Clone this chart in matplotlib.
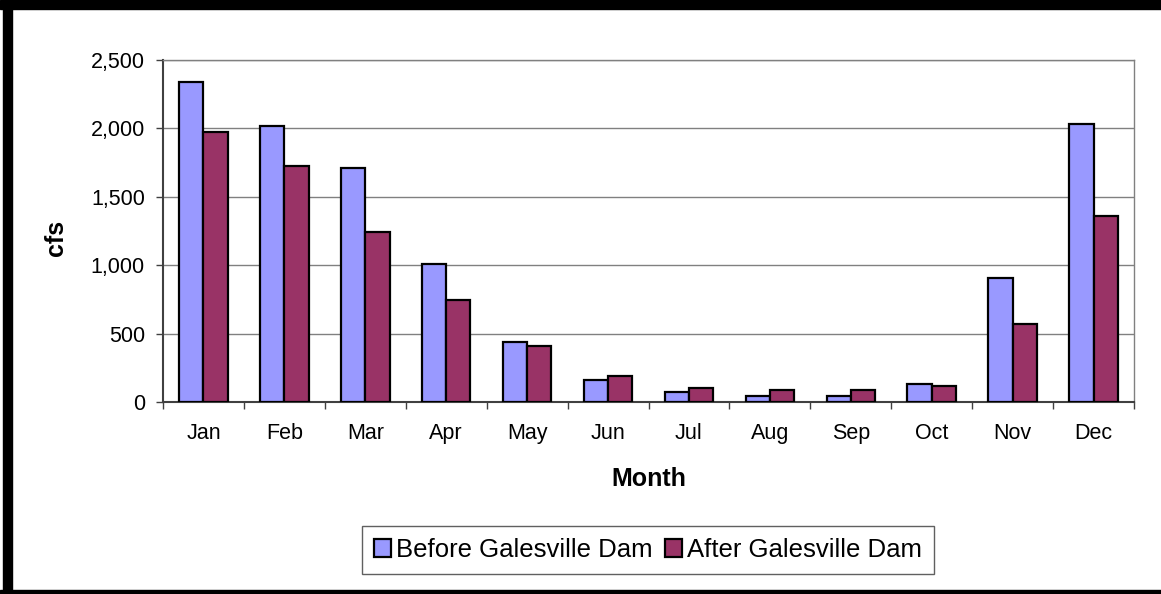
import matplotlib
matplotlib.use("Agg")
import matplotlib.pyplot as plt
import numpy as np
from matplotlib.patches import Rectangle

plt.rcParams['font.family'] = ['Liberation Sans', 'DejaVu Sans']

months = ["Jan", "Feb", "Mar", "Apr", "May", "Jun", "Jul", "Aug", "Sep", "Oct", "Nov", "Dec"]
before = [2340, 2020, 1710, 1010, 440, 160, 75, 45, 45, 135, 905, 2035]
after = [1975, 1725, 1245, 745, 410, 192, 102, 88, 88, 120, 568, 1358]
yticks = [0, 500, 1000, 1500, 2000, 2500]

fig = plt.figure(figsize=(11.61, 5.94), dpi=100)
ax = fig.add_axes([163/1161, 1-402/594, 971/1161, 342/594])

x = np.arange(len(months))
w = 0.3
ax.bar(x - w/2, before, w, color="#9999FF", edgecolor="black", linewidth=1.6,
       label="Before Galesville Dam", zorder=3)
ax.bar(x + w/2, after, w, color="#993366", edgecolor="black", linewidth=1.6,
       label="After Galesville Dam", zorder=3)

ax.set_xlim(-0.5, len(months) - 0.5)
ax.set_ylim(0, 2500)
ax.set_yticks(yticks)
ax.set_yticklabels(["{:,}".format(v) for v in yticks], fontsize=15.5)
ax.yaxis.grid(True, color="#808080", linewidth=1, zorder=0)
ax.tick_params(axis="y", direction="out", length=5, width=1, color="#404040", pad=8)

ax.set_xticks(x)
ax.set_xticklabels(months, fontsize=15.5)
ax.set_xticks(np.arange(-0.5, len(months)), minor=True)
ax.tick_params(axis="x", which="major", length=0, pad=15)
ax.tick_params(axis="x", which="minor", direction="out", length=5, width=1, color="#404040")

for s in ["left", "bottom"]:
    ax.spines[s].set_color("#404040")
    ax.spines[s].set_linewidth(1.5)
for s in ["top", "right"]:
    ax.spines[s].set_color("#808080")
    ax.spines[s].set_linewidth(1)

ax.set_ylabel("cfs", fontsize=18, fontweight="bold")
ax.yaxis.set_label_coords(-0.098, 0.48)
ax.set_xlabel("Month", fontsize=18, fontweight="bold")
ax.xaxis.set_label_coords(0.5, -0.19)

fig.legend(loc="center", bbox_to_anchor=(648/1161, 1-550/594), ncol=2, fontsize=18.5,
           frameon=True, fancybox=False, edgecolor="#606060", framealpha=1,
           handlelength=0.65, handleheight=0.65, handletextpad=0.2,
           columnspacing=0.5, borderpad=0.45, borderaxespad=0)

# black frame around the chart
fig.patches.append(Rectangle((3/1161, 0), 9/1161, 1, transform=fig.transFigure,
                             color="black", zorder=10))
fig.patches.append(Rectangle((0, 1-9/594), 1, 9/594, transform=fig.transFigure,
                             color="black", zorder=10))
fig.patches.append(Rectangle((0, 0), 1, 4/594, transform=fig.transFigure,
                             color="black", zorder=10))

fig.savefig("out.png", dpi=100)
